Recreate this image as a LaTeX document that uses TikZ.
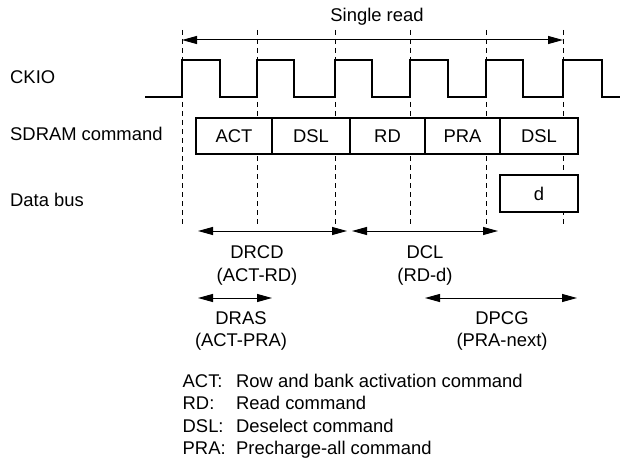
\documentclass[tikz,border=0pt]{standalone}
\usepackage{fontspec}
\setmainfont{Liberation Sans}
\usetikzlibrary{arrows.meta}
\begin{document}
\begin{tikzpicture}[x=1pt,y=-1pt,
  every node/.style={font=\fontsize{18.4}{22}\selectfont, inner sep=0pt, text height=13.2pt, text depth=0pt},
  lbl/.style={anchor=west},
  cmdbox/.style={draw, line width=2pt, fill=white, minimum height=36pt},
  guide/.style={line width=1pt, dash pattern=on 5pt off 4pt},
  dim/.style={line width=1pt, {Triangle[length=15pt,width=8pt]}-{Triangle[length=15pt,width=8pt]}},
  clk/.style={line width=2pt, line join=miter}
]
\useasboundingbox (0,0) rectangle (635,460);
% guides
\foreach \gx in {182,257,335,410,486,563}
  \draw[guide] (\gx,30) -- (\gx,227);
% single read
\node (title) at (377,15) {Single read};
\coordinate (sr1) at (182,40);
\coordinate (sr2) at (563,40);
\draw[dim] (sr1) -- (sr2);
% clock
\node[lbl] (ckio) at (10,77) {CKIO};
\draw[clk] (145,97) -- (182,97) -- (182,60) -- (220,60) -- (220,97) -- (257,97) -- (257,60)
  -- (294,60) -- (294,97) -- (335,97) -- (335,60) -- (372,60) -- (372,97) -- (410,97)
  -- (410,60) -- (448,60) -- (448,97) -- (486,97) -- (486,60) -- (523,60) -- (523,97)
  -- (563,97) -- (563,60) -- (602,60) -- (602,97) -- (620,97);
% commands
\node[lbl] (sdram) at (10,133.5) {SDRAM command};
\node[cmdbox, minimum width=76pt] (c1) at (234,136) {ACT};
\node[cmdbox, minimum width=78pt] (c2) at (311,136) {DSL};
\node[cmdbox, minimum width=75pt] (c3) at (387.5,136) {RD};
\node[cmdbox, minimum width=75pt] (c4) at (462.5,136) {PRA};
\node[cmdbox, minimum width=78pt] (c5) at (539,136) {DSL};
% data bus
\node[lbl] (dbus) at (10,199.5) {Data bus};
\node[cmdbox, minimum width=78pt, minimum height=37pt] (dd) at (539,193.5) {d};
% timing arrows
\coordinate (a1) at (198,231);
\coordinate (a2) at (347,231);
\coordinate (a3) at (352,231);
\coordinate (a4) at (498,231);
\draw[dim] (a1) -- (a2);
\draw[dim] (a3) -- (a4);
\node (drcd) at (257,252) {DRCD};
\node (drcd2) at (257,275) {(ACT-RD)};
\node (dcl) at (425,252) {DCL};
\node (dcl2) at (425,275) {(RD-d)};
\coordinate (b1) at (198,298);
\coordinate (b2) at (272,298);
\coordinate (b3) at (425,298);
\coordinate (b4) at (577,298);
\draw[dim] (b1) -- (b2);
\draw[dim] (b3) -- (b4);
\node (dras) at (241,318) {DRAS};
\node (dras2) at (241,340) {(ACT-PRA)};
\node (dpcg) at (502,318) {DPCG};
\node (dpcg2) at (502,340) {(PRA-next)};
% legend
\node[lbl] (l1) at (182.5,381) {ACT:};
\node[lbl] (l2) at (182.5,403) {RD:};
\node[lbl] (l3) at (182.5,425.5) {DSL:};
\node[lbl] (l4) at (182.5,448) {PRA:};
\node[lbl] (d1) at (236,381) {Row and bank activation command};
\node[lbl] (d2) at (236,403) {Read command};
\node[lbl] (d3) at (236,425.5) {Deselect command};
\node[lbl] (d4) at (236,448) {Precharge-all command};
\end{tikzpicture}
\end{document}
